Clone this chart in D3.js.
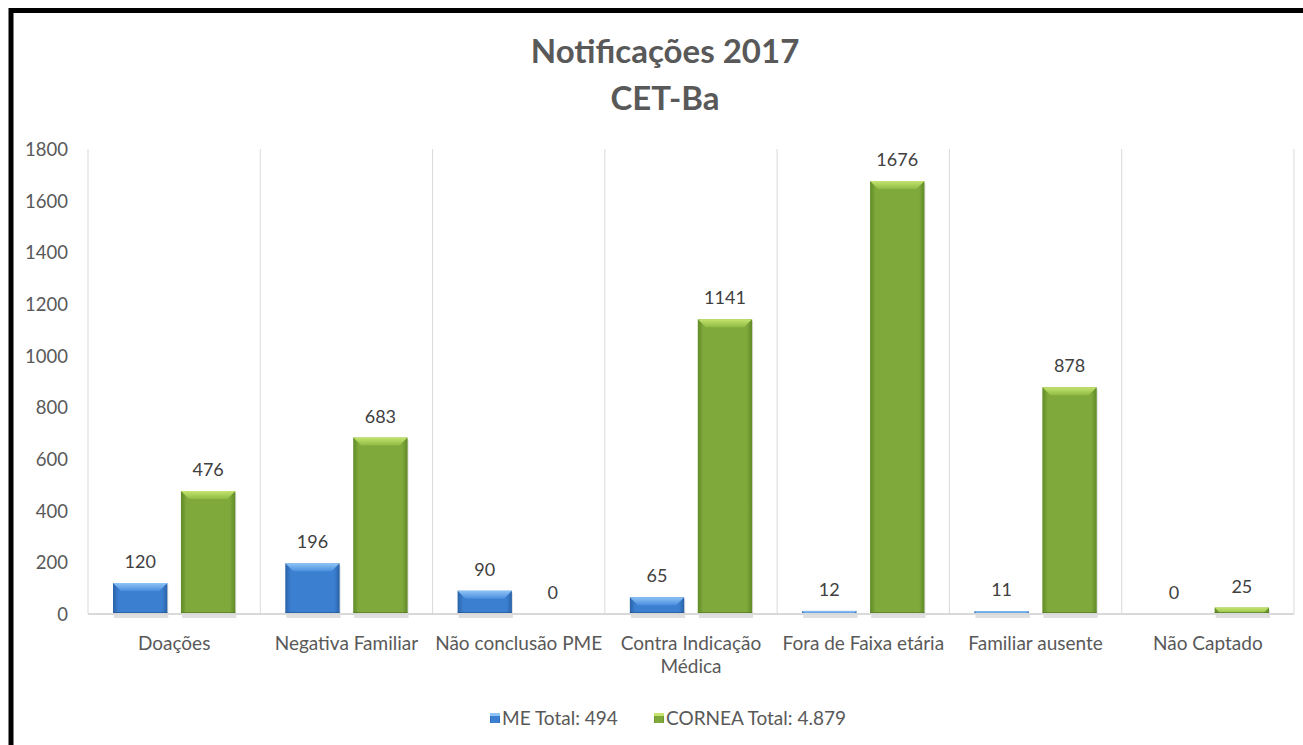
<!DOCTYPE html>
<html>
<head>
<meta charset="utf-8">
<script src="https://d3js.org/d3.v7.min.js"></script>
<style>
body { margin: 0; background: white; }
svg { display: block; font-family: Lato, 'Noto Sans', sans-serif; }
</style>
</head>
<body>
<svg width="1303" height="745"></svg>
<script>
// chart data
const categories = ["Doações", "Negativa Familiar", "Não conclusão PME", "Contra Indicação Médica",
                    "Fora de Faixa etária", "Familiar ausente", "Não Captado"];
const meValues = [120, 196, 90, 65, 12, 11, 0];
const corneaValues = [476, 683, 0, 1141, 1676, 878, 25];
const seriesNames = ["ME Total: 494", "CORNEA Total: 4.879"];
const yTicks = [0, 200, 400, 600, 800, 1000, 1200, 1400, 1600, 1800];

const svg = d3.select("svg");
const plotLeft = 88, plotRight = 1294, plotTop = 149, plotBottom = 614;

// outer frame
svg.append("rect")
  .attr("x", 11).attr("y", 10.5)
  .attr("width", 1310).attr("height", 760)
  .attr("fill", "white")
  .attr("stroke", "black")
  .attr("stroke-width", 5);

// title
svg.append("text").attr("x", 665).attr("y", 63)
  .attr("text-anchor", "middle").attr("font-size", 33).attr("font-weight", "bold")
  .attr("fill", "#595959").text("Notificações 2017");
svg.append("text").attr("x", 665).attr("y", 110)
  .attr("text-anchor", "middle").attr("font-size", 33).attr("font-weight", "bold")
  .attr("fill", "#595959").text("CET-Ba");

const x = d3.scaleBand().domain(categories).range([plotLeft, plotRight]);
const inner = d3.scaleBand().domain([0, 1]).range([25, x.bandwidth() - 25]).paddingInner(0.2);
const y = d3.scaleLinear().domain([0, 1800]).range([plotBottom, plotTop]);

// gradients
const defs = svg.append("defs");
function grad(id, stops, vertical) {
  const g = defs.append("linearGradient").attr("id", id)
    .attr("x1", 0).attr("x2", vertical ? 0 : 1).attr("y1", 0).attr("y2", vertical ? 1 : 0);
  stops.forEach(s => g.append("stop").attr("offset", s[0]).attr("stop-color", s[1]));
}
grad("gBlue", [[0, "#2a63a8"], [0.1, "#3b7fd0"], [0.9, "#3b7fd0"], [1, "#2a63a8"]]);
grad("gGreen", [[0, "#5f8a26"], [0.1, "#7fa93b"], [0.9, "#7fa93b"], [1, "#5f8a26"]]);
grad("bBlue", [[0, "#8ec4f5"], [1, "#4a8ede"]], true);
grad("bGreen", [[0, "#c4e46e"], [1, "#8fbb44"]], true);

// vertical gridlines at category boundaries
const bounds = categories.map(c => x(c)).concat([plotRight]);
svg.append("g").selectAll("line").data(bounds).enter().append("line")
  .attr("x1", d => d).attr("x2", d => d)
  .attr("y1", plotTop).attr("y2", plotBottom)
  .attr("stroke", "#d9d9d9").attr("stroke-width", 1);

// y tick labels
svg.append("g").selectAll("text").data(yTicks).enter().append("text")
  .attr("x", 68).attr("y", d => y(d) + 7)
  .attr("text-anchor", "end").attr("font-size", 18.5).attr("fill", "#595959")
  .text(d => d);

// bars
const series = [
  { values: meValues, fill: "url(#gBlue)", bevel: "url(#bBlue)", dark: "#1f4f8c" },
  { values: corneaValues, fill: "url(#gGreen)", bevel: "url(#bGreen)", dark: "#4d7220" }
];
series.forEach((s, si) => {
  const g = svg.append("g");
  const w = inner.bandwidth();
  const rows = categories.map((c, i) => ({ c: c, v: s.values[i] }));
  const bars = g.selectAll("g").data(rows.filter(d => d.v > 0)).enter().append("g");
  // shadow
  bars.append("rect")
    .attr("x", d => x(d.c) + inner(si) + 1).attr("y", d => y(d.v) + 2)
    .attr("width", w).attr("height", d => plotBottom - y(d.v) + 2)
    .attr("fill", "#000").attr("opacity", 0.12);
  bars.append("rect")
    .attr("x", d => x(d.c) + inner(si)).attr("y", d => y(d.v))
    .attr("width", w).attr("height", d => plotBottom - y(d.v))
    .attr("fill", s.fill);
  // top bevel
  bars.append("path")
    .attr("d", d => {
      const x0 = x(d.c) + inner(si), y0 = y(d.v);
      const b = Math.min(8, (plotBottom - y0));
      return `M${x0},${y0}H${x0 + w}L${x0 + w - b},${y0 + b}H${x0 + b}Z`;
    })
    .attr("fill", s.bevel);
  // bottom edge
  bars.append("rect")
    .attr("x", d => x(d.c) + inner(si)).attr("y", plotBottom - 2)
    .attr("width", w).attr("height", 2)
    .attr("fill", s.dark).attr("opacity", d => (plotBottom - y(d.v)) > 6 ? 0.6 : 0);
  // labels
  g.selectAll("text").data(rows).enter().append("text")
    .attr("x", d => x(d.c) + inner(si) + w / 2)
    .attr("y", d => y(d.v) - 15)
    .attr("text-anchor", "middle").attr("font-size", 18).attr("fill", "#404040")
    .text(d => d.v);
});

// baseline
svg.append("line")
  .attr("x1", plotLeft).attr("x2", plotRight).attr("y1", plotBottom).attr("y2", plotBottom)
  .attr("stroke", "#d9d9d9").attr("stroke-width", 2);

// category labels
const catG = svg.append("g");
categories.forEach(c => {
  const t = catG.append("text")
    .attr("x", x(c) + x.bandwidth() / 2).attr("y", 650)
    .attr("text-anchor", "middle").attr("font-size", 19).attr("fill", "#595959");
  const lines = c === "Contra Indicação Médica" ? ["Contra Indicação", "Médica"] : [c];
  lines.forEach((l, i) => t.append("tspan")
    .attr("x", x(c) + x.bandwidth() / 2).attr("dy", i ? 23 : 0).text(l));
});

// legend
const legend = [
  { name: seriesNames[0], fill: "url(#gBlue)", bevel: "#8ec4f5", x: 490 },
  { name: seriesNames[1], fill: "url(#gGreen)", bevel: "#c4e46e", x: 654 }
];
legend.forEach(l => {
  svg.append("rect").attr("x", l.x).attr("y", 713).attr("width", 10).attr("height", 10)
    .attr("fill", l.fill);
  svg.append("rect").attr("x", l.x).attr("y", 713).attr("width", 10).attr("height", 3)
    .attr("fill", l.bevel);
  svg.append("text").attr("x", l.x + 12).attr("y", 725)
    .attr("font-size", 19).attr("fill", "#595959").text(l.name);
});
</script>
</body>
</html>
